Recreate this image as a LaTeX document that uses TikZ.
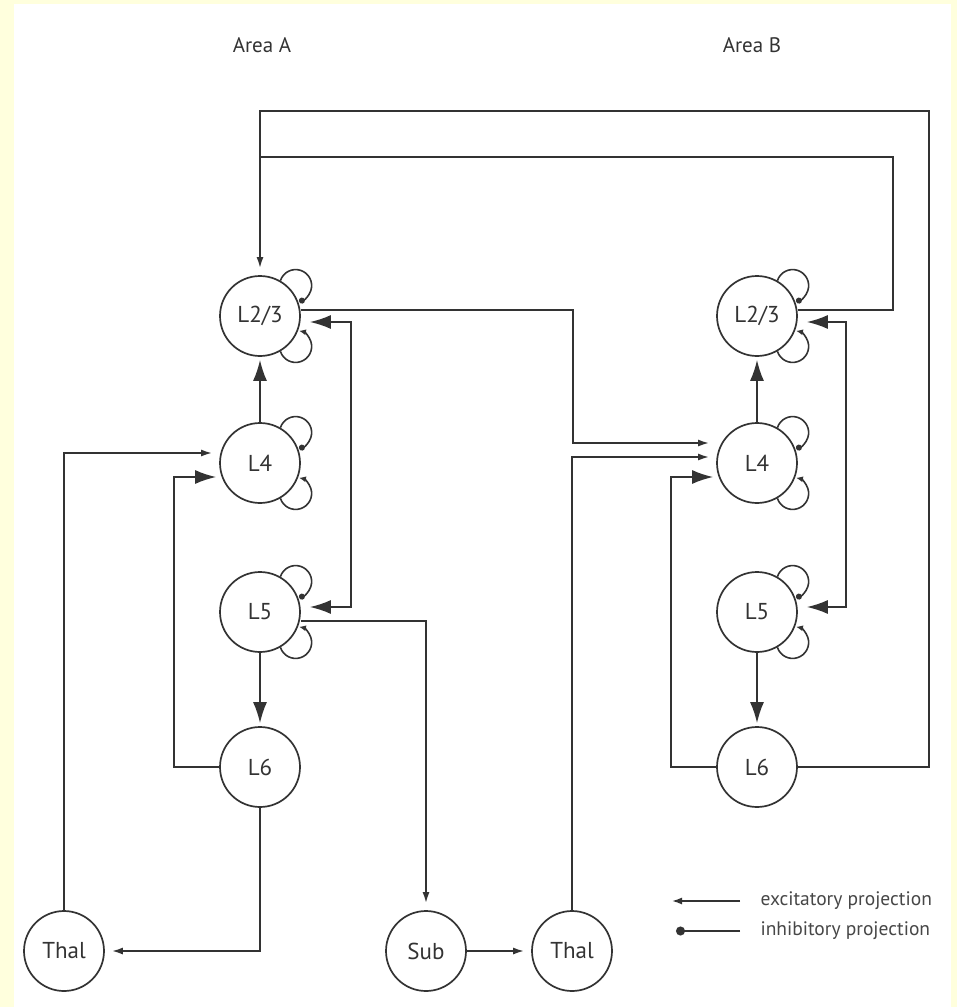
\documentclass[tikz,border=0pt]{standalone}
\usepackage{fontspec}
\setmainfont{PT Sans}
\usetikzlibrary{arrows.meta,calc}
\definecolor{bgy}{HTML}{FFFFDD}
\definecolor{ink}{HTML}{333333}
\newcommand\loopsat[1]{%
  \draw[inhloop] (#1.60) arc[start angle=-162,end angle=78,radius=16];
  \draw[excloop] (#1.-60) arc[start angle=-198,end angle=-438,radius=16];
}
\begin{document}
\begin{tikzpicture}[x=1pt,y=-1pt,
  neuron/.style={circle,draw=ink,line width=1.7pt,minimum size=80pt,inner sep=0pt,
    font=\fontsize{23}{23}\selectfont,text=ink},
  conn/.style={draw=ink,line width=1.8pt},
  exc/.style={conn,-{Latex[length=11pt,width=7pt]},shorten >=7pt},
  bigexc/.style={conn,-{Latex[length=21pt,width=14pt]},shorten >=3pt},
  dblexc/.style={conn,{Latex[length=21pt,width=14pt]}-{Latex[length=21pt,width=14pt]},shorten >=9pt,shorten <=9pt},
  inhloop/.style={conn,line width=1.6pt,-{Circle[length=6pt]}},
  excloop/.style={conn,line width=1.6pt,-{Latex[length=7pt,width=6pt]}},
  title/.style={font=\fontsize{21}{21}\selectfont,text=ink},
  legtext/.style={font=\fontsize{19.5}{20}\selectfont,text=ink!90,anchor=west}
]
\fill[bgy] (0,0) rectangle (957,1007);
\fill[white] (14,4) rectangle (951,1007);
\useasboundingbox (0,0) rectangle (957,1007);

% titles
\node[title] (tA) at (262,45) {Area A};
\node[title] (tB) at (752,45) {Area B};

% Area A
\node[neuron] (L23A) at (260,316) {L2/3};
\node[neuron] (L4A)  at (260,463) {L4};
\node[neuron] (L5A)  at (260,612) {L5};
\node[neuron] (L6A)  at (260,767) {L6};
% Area B
\node[neuron] (L23B) at (757,316) {L2/3};
\node[neuron] (L4B)  at (757,463) {L4};
\node[neuron] (L5B)  at (757,612) {L5};
\node[neuron] (L6B)  at (757,767) {L6};
% bottom
\node[neuron] (ThA) at (64,951) {Thal};
\node[neuron] (Sub) at (426,951) {Sub};
\node[neuron] (ThB) at (572,951) {Thal};

\loopsat{L23A}\loopsat{L4A}\loopsat{L5A}
\loopsat{L23B}\loopsat{L4B}\loopsat{L5B}

% Area A connections
\draw[bigexc] (L4A) -- (L23A);
\draw[bigexc] (L5A) -- (L6A);
\draw[bigexc] (L6A.west) -- ++(-45,0) |- ($(L4A.west)+(0,14)$);
\draw[exc] (ThA.north) |- ($(L4A.west)+(0,-10)$);
\draw[dblexc] ($(L23A.east)+(0,6)$) -- ++(50,0) |- ($(L5A.east)+(0,-5)$);
\draw[exc] ($(L5A.east)+(0,9)$) -| (Sub.north);
\draw[exc] (L6A.south) |- (ThA.east);
\draw[exc] (Sub) -- (ThB);

% inter-area
\draw[exc] ($(L23A.east)+(0,-6)$) -- ++(272,0) |- ($(L4B.west)+(0,-20)$);
\draw[exc] (ThB.north) |- ($(L4B.west)+(0,-6)$);
\draw[exc] (L6B.east) -- ++(131,0) -- ++(0,-656) -| (L23A.north);
\draw[conn] ($(L23B.east)+(0,-6)$) -- ++(95,0) -- ++(0,-153) -- ++(-632,0);

% Area B connections
\draw[bigexc] (L4B) -- (L23B);
\draw[bigexc] (L5B) -- (L6B);
\draw[bigexc] (L6B.west) -- ++(-45,0) |- ($(L4B.west)+(0,14)$);
\draw[dblexc] ($(L23B.east)+(0,6)$) -- ++(48,0) |- ($(L5B.east)+(0,-5)$);

% legend
\coordinate (e1) at (740,901); \coordinate (e0) at (672,901);
\coordinate (i1) at (740,931); \coordinate (i0) at (676,931);
\draw[conn,line width=1.5pt,-{Latex[length=10pt,width=7pt]}] (e1) -- (e0);
\draw[conn,line width=1.5pt,-{Circle[length=9pt]}] (i1) -- (i0);
\node[legtext] (le) at (757,901) {excitatory projection};
\node[legtext] (li) at (757,931) {inhibitory projection};
\end{tikzpicture}
\end{document}
